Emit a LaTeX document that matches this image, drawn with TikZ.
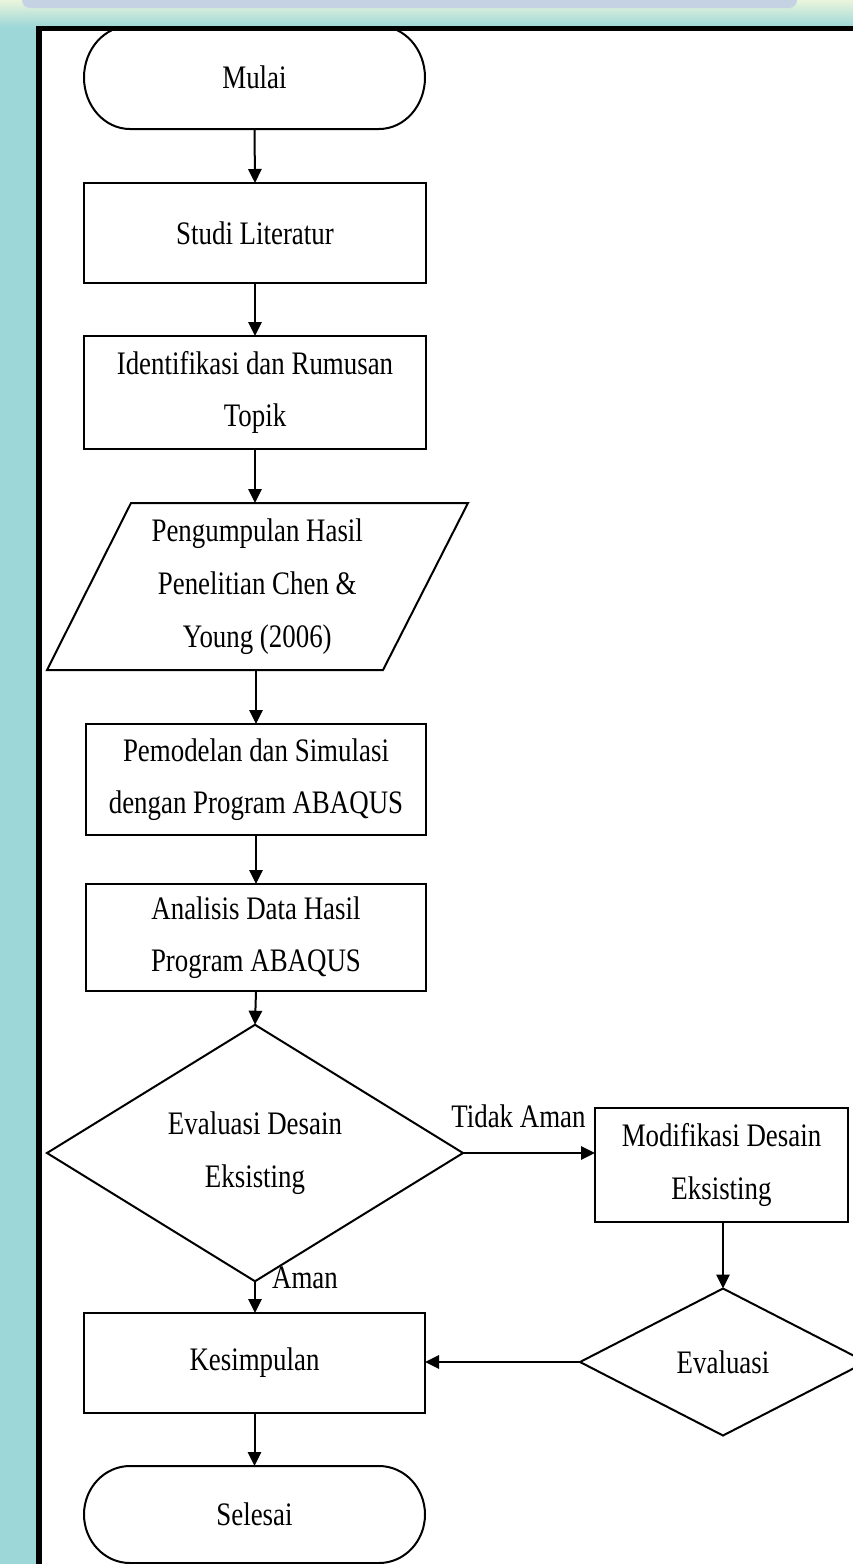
\documentclass[tikz,border=0pt]{standalone}
\usepackage{fontspec}
\setmainfont{Liberation Serif}[FakeStretch=0.82]
\usetikzlibrary{arrows.meta,shapes.geometric}
\definecolor{bgteal}{RGB}{158,215,216}
\definecolor{topcream}{RGB}{234,245,220}
\definecolor{barblue}{RGB}{196,210,228}
\newcommand{\drawstadium}[2]{%
 \draw[line,shift={(#1.center)}] (-124.5,-#2) -- (124.5,-#2)
   .. controls (149.9,-#2) and (170.5,{-0.552*#2}) .. (170.5,0)
   .. controls (170.5,{0.552*#2}) and (149.9,#2) .. (124.5,#2)
   -- (-124.5,#2)
   .. controls (-149.9,#2) and (-170.5,{0.552*#2}) .. (-170.5,0)
   .. controls (-170.5,{-0.552*#2}) and (-149.9,-#2) .. (-124.5,-#2) -- cycle;}
\begin{document}
\begin{tikzpicture}[x=0.75pt,y=-0.75pt,
  line/.style={line width=1.5pt},
  arr/.style={line,-{Triangle[length=10.5pt,width=10pt]}},
  txt/.style={font=\fontsize{24.6}{39.5}\selectfont,align=center},
  proc/.style={txt,rectangle,draw,line,inner sep=0pt,outer sep=0pt},
  term/.style={txt,rectangle,inner sep=0pt,outer sep=0pt},
  decision/.style={txt,diamond,draw,line,inner sep=0pt,outer sep=0pt},
  ghost/.style={txt,rectangle,inner sep=0pt,outer sep=0pt}]
\useasboundingbox (0,0) rectangle (853,1564);
\clip (0,0) rectangle (853,1564);
% background
\fill[bgteal] (0,0) rectangle (853,1564);
\shade[top color=topcream,bottom color=bgteal] (0,0) rectangle (853,27);
\fill[barblue,rounded corners=6pt] (22,-12) rectangle (797,8);
\fill[white] (39,28.5) rectangle (870,1580);
% nodes
\node[term,minimum width=255.75pt,minimum height=77.25pt] (mulai) at (254.5,77.5) {Mulai};
\begin{scope}
\clip (41,31) rectangle (870,1580);
\drawstadium{mulai}{51.5}
\end{scope}
\node[proc,minimum width=256.5pt,minimum height=75pt] (studi) at (255,233) {Studi Literatur};
\node[proc,minimum width=256.5pt,minimum height=84.75pt] (iden) at (255,392.5) {Identifikasi dan Rumusan\\Topik};
\draw[line] (131,503) -- (468,503) -- (383,670) -- (47,670) -- cycle;
\node[ghost,minimum width=187.5pt,minimum height=125.25pt] (para) at (257.25,586.5) {Pengumpulan Hasil\\Penelitian Chen \&\\Young (2006)};
\node[proc,minimum width=255pt,minimum height=83.25pt] (pemo) at (256,779.5) {Pemodelan dan Simulasi\\dengan Program ABAQUS};
\node[proc,minimum width=255pt,minimum height=80.25pt] (anal) at (256,937.5) {Analisis Data Hasil\\Program ABAQUS};
\node[decision,minimum width=312pt,minimum height=163.5pt] (evald) at (255,1153) {Evaluasi Desain\\Eksisting};
\node[proc,minimum width=189.75pt,minimum height=85.5pt] (modif) at (721.5,1165) {Modifikasi Desain\\Eksisting};
\node[decision,minimum width=214.5pt,minimum height=110.25pt] (ev2) at (723,1362) {Evaluasi};
\node[proc,minimum width=255.75pt,minimum height=75pt] (kesim) at (254.5,1363) {Kesimpulan};
\node[term,minimum width=255.75pt,minimum height=72.75pt] (selesai) at (254.5,1514.5) {Selesai};
\drawstadium{selesai}{48.5}
% labels
\node[txt,anchor=base,inner sep=0pt] (tidak) at (518.5,1127) {Tidak Aman};
\node[txt,anchor=base,inner sep=0pt] (aman) at (305,1288) {Aman};
% connectors
\draw[arr] (mulai.south) -- (studi.north);
\draw[arr] (studi.south) -- (iden.north);
\draw[arr] (iden.south) -- (iden.south |- para.north);
\draw[arr] (pemo.north |- para.south) -- (pemo.north);
\draw[arr] (pemo.south) -- (anal.north);
\draw[arr] (anal.south) -- (evald.north);
\draw[arr] (evald.east) -- (evald.east -| modif.west);
\draw[arr] (evald.south) -- (evald.south |- kesim.north);
\draw[arr] (ev2.north |- modif.south) -- (ev2.north);
\draw[arr] (ev2.west) -- (ev2.west -| kesim.east);
\draw[arr] (kesim.south) -- (selesai.north);
% frame border
\draw[line width=4.3pt] (39,1580) -- (39,28.5) -- (870,28.5);
\end{tikzpicture}
\end{document}
